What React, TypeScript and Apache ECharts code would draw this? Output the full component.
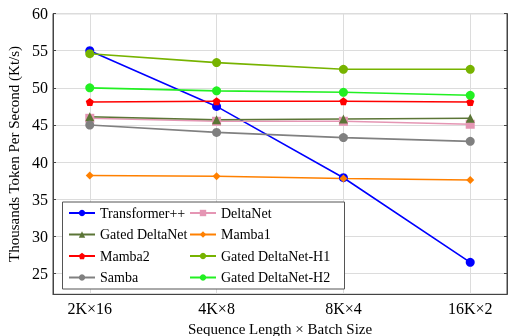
import React, { useEffect, useRef } from "react";
import * as echarts from "echarts";

const categories = ["2K×16", "4K×8", "8K×4", "16K×2"];
const transformerPP = [55.0, 47.5, 37.9, 26.5];
const deltaNet = [45.9, 45.5, 45.5, 45.1];
const gatedDeltaNet = [46.1, 45.7, 45.8, 45.9];
const mamba1 = [38.2, 38.1, 37.8, 37.6];
const mamba2 = [48.1, 48.2, 48.2, 48.1];
const gatedDeltaNetH1 = [54.6, 53.4, 52.5, 52.5];
const samba = [45.0, 44.0, 43.3, 42.8];
const gatedDeltaNetH2 = [50.0, 49.6, 49.4, 49.0];
const yTicks = [25, 30, 35, 40, 45, 50, 55, 60];

const pentagon =
  "path://M0,-10 L9.51,-3.09 L5.88,8.09 L-5.88,8.09 L-9.51,-3.09 Z";

const seriesDefs = [
  { name: "Transformer++", data: transformerPP, color: "#0000ff", symbol: "circle", size: 9 },
  { name: "DeltaNet", data: deltaNet, color: "#e596b4", symbol: "rect", size: 9 },
  { name: "Gated DeltaNet", data: gatedDeltaNet, color: "#5b7536", symbol: "triangle", size: 9 },
  { name: "Mamba1", data: mamba1, color: "#ff8000", symbol: "diamond", size: 8 },
  { name: "Mamba2", data: mamba2, color: "#ff0000", symbol: pentagon, size: 8 },
  { name: "Gated DeltaNet-H1", data: gatedDeltaNetH1, color: "#77b300", symbol: "circle", size: 9 },
  { name: "Samba", data: samba, color: "#808080", symbol: "circle", size: 9 },
  { name: "Gated DeltaNet-H2", data: gatedDeltaNetH2, color: "#22f022", symbol: "circle", size: 9 },
];

const FONT = "'Liberation Serif', 'DejaVu Serif', serif";

export default function App() {
  const ref = useRef<HTMLDivElement>(null);
  useEffect(() => {
    if (!ref.current) return;
    const chart = echarts.init(ref.current, undefined, { renderer: "svg" });
    const series = seriesDefs.map((s) => ({
      name: s.name,
      type: "line",
      data: s.data.map((v, i) => [i, v]),
      symbol: s.symbol,
      symbolSize: s.size,
      showSymbol: true,
      lineStyle: { color: s.color, width: 1.6 },
      itemStyle: { color: s.color },
      z: 2,
    }));
    const legendText = { fontFamily: FONT, fontSize: 14, color: "#000" };
    const yTickFormatter = (v: number) => (yTicks.includes(v) ? String(v) : "");
    chart.setOption({
      animation: false,
      grid: {
        left: 53,
        right: 1,
        top: 13.6,
        bottom: 41.7,
        outerBoundsMode: "none",
        containLabel: false,
        show: true,
        borderColor: "#444",
        borderWidth: 1,
      },
      xAxis: {
        type: "value",
        min: -0.29,
        max: 3.29,
        minInterval: 1,
        maxInterval: 1,
        name: "Sequence Length × Batch Size",
        nameLocation: "middle",
        nameGap: 27,
        nameTextStyle: { fontFamily: FONT, fontSize: 15, color: "#000" },
        axisLine: { show: true, onZero: false, lineStyle: { color: "#444" } },
        axisTick: { show: false },
        axisLabel: {
          showMinLabel: false,
          showMaxLabel: false,
          fontFamily: FONT,
          fontSize: 16,
          color: "#000",
          margin: 6,
          formatter: (v: number) =>
            Number.isInteger(v) && v >= 0 && v < categories.length ? categories[v] : "",
        },
        splitLine: { show: true, lineStyle: { color: "#dcdcdc", width: 1 } },
      },
      yAxis: [
        {
          type: "value",
          min: 22.2,
          max: 60,
          minInterval: 5,
          maxInterval: 5,
          name: "Thousands Token Per Second (Kt/s)",
          nameLocation: "middle",
          nameGap: 31,
          nameTextStyle: { fontFamily: FONT, fontSize: 15, color: "#000" },
          axisLine: { show: true, onZero: false, lineStyle: { color: "#444" } },
          axisTick: { show: true, inside: true, length: 3, lineStyle: { color: "#444" } },
          axisLabel: {
            showMinLabel: false,
            fontFamily: FONT,
            fontSize: 16,
            color: "#000",
            margin: 5,
            formatter: yTickFormatter,
          },
          splitLine: { show: true, lineStyle: { color: "#dcdcdc", width: 1 } },
        },
        {
          type: "value",
          position: "right",
          min: 22.2,
          max: 60,
          minInterval: 5,
          maxInterval: 5,
          axisLine: { show: true, onZero: false, lineStyle: { color: "#444" } },
          axisTick: { show: true, inside: true, length: 3, lineStyle: { color: "#444" } },
          axisLabel: { show: false },
          splitLine: { show: false },
        },
      ],
      legend: [
        {
          orient: "vertical",
          left: 68,
          top: 206,
          padding: 0,
          itemWidth: 26,
          itemHeight: 8,
          itemGap: 7.5,
          textStyle: legendText,
          data: ["Transformer++", "Gated DeltaNet", "Mamba2", "Samba"],
          z: 6,
        },
        {
          orient: "vertical",
          left: 189,
          top: 206,
          padding: 0,
          itemWidth: 26,
          itemHeight: 8,
          itemGap: 7.5,
          textStyle: legendText,
          data: ["DeltaNet", "Mamba1", "Gated DeltaNet-H1", "Gated DeltaNet-H2"],
          z: 6,
        },
      ],
      graphic: [
        {
          type: "rect",
          left: 62,
          top: 201.5,
          shape: { width: 282, height: 87 },
          style: { fill: "#fff", stroke: "#555", lineWidth: 1 },
          z: 5,
        },
      ],
      series,
    });
    return () => chart.dispose();
  }, []);
  return (
    <div
      ref={ref}
      style={{ position: "fixed", left: 0, top: 0, width: 508, height: 336 }}
    />
  );
}
